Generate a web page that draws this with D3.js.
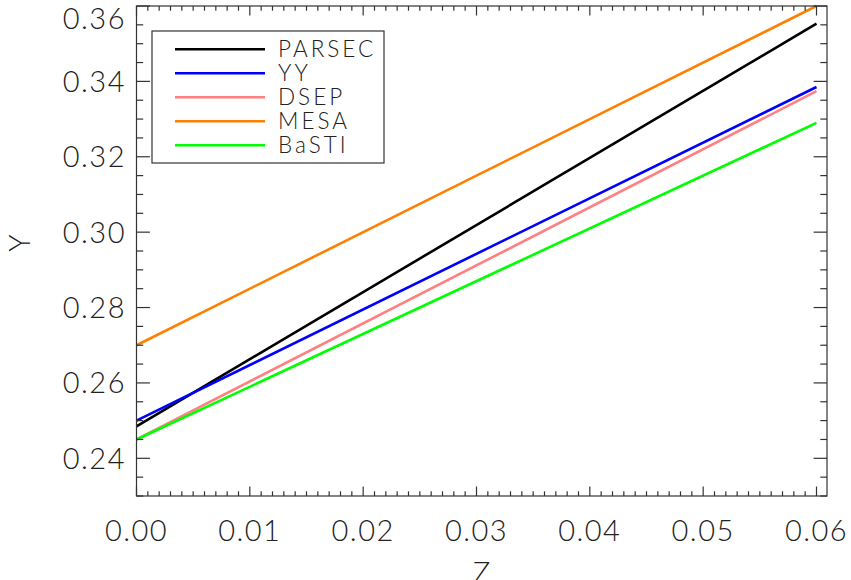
<!DOCTYPE html>
<html>
<head>
<meta charset="utf-8">
<script src="https://cdn.jsdelivr.net/npm/d3@7"></script>
<style>
html, body { margin: 0; padding: 0; background: #fff; }
svg text { font-family: "Lato", "DejaVu Sans", sans-serif; font-weight: 300; fill: #222; }
</style>
</head>
<body>
<svg id="chart" width="851" height="580"></svg>
<script>
// ---- data ----
const zValues = [0.0, 0.06];
const seriesNames = ["PARSEC", "YY", "DSEP", "MESA", "BaSTI"];
const seriesColors = ["#000000", "#0000ff", "#ff8080", "#ff8000", "#00ff00"];
const parsecY = [0.2485, 0.3553];
const yyY = [0.2500, 0.3385];
const dsepY = [0.2450, 0.3374];
const mesaY = [0.2700, 0.3600];
const bastiY = [0.2450, 0.3290];
const xTickValues = [0.00, 0.01, 0.02, 0.03, 0.04, 0.05, 0.06];
const yTickValues = [0.24, 0.26, 0.28, 0.30, 0.32, 0.34, 0.36];
const xLabel = "Z";
const yLabel = "Y";

const seriesY = [parsecY, yyY, dsepY, mesaY, bastiY];

// ---- layout ----
const svg = d3.select("#chart");
const L = 136.5, R = 827, T = 6, B = 496;
const x = d3.scaleLinear().domain([0, 0.06]).range([L, 816.5]);
const y = d3.scaleLinear().domain([0.23, 0.36]).range([B, T]);

const axisColor = "#333";
const xMinor = d3.range(0, 61).map(i => i * 0.001).filter(v => x(v) <= R);
const yMinor = d3.range(0, 27).map(i => 0.23 + i * 0.005);

const g = svg.append("g");

// lines
const line = d3.line().x(d => x(d[0])).y(d => y(d[1]));
seriesY.forEach((ys, i) => {
  g.append("path")
    .datum(zValues.map((z, j) => [z, ys[j]]))
    .attr("d", line)
    .attr("fill", "none")
    .attr("stroke", seriesColors[i])
    .attr("stroke-width", 2.6);
});

// frame
g.append("rect").attr("x", L).attr("y", T).attr("width", R - L).attr("height", B - T)
  .attr("fill", "none").attr("stroke", axisColor).attr("stroke-width", 1.2);

// ticks on all four sides
const xMajLen = 9.5, xMinLen = 4.7, yMajLen = 13.4, yMinLen = 6.7;
function isMajorX(v) { return Math.abs(v * 100 - Math.round(v * 100)) < 1e-6; }
function isMajorY(v) { return Math.abs(v * 50 - Math.round(v * 50)) < 1e-6; }
xMinor.forEach(v => {
  const len = isMajorX(v) ? xMajLen : xMinLen;
  const px = x(v);
  g.append("line").attr("x1", px).attr("x2", px).attr("y1", B).attr("y2", B - len)
    .attr("stroke", axisColor).attr("stroke-width", 1.2);
  g.append("line").attr("x1", px).attr("x2", px).attr("y1", T).attr("y2", T + len)
    .attr("stroke", axisColor).attr("stroke-width", 1.2);
});
yMinor.forEach(v => {
  const len = isMajorY(v) ? yMajLen : yMinLen;
  const py = y(v);
  g.append("line").attr("x1", L).attr("x2", L + len).attr("y1", py).attr("y2", py)
    .attr("stroke", axisColor).attr("stroke-width", 1.2);
  g.append("line").attr("x1", R).attr("x2", R - len).attr("y1", py).attr("y2", py)
    .attr("stroke", axisColor).attr("stroke-width", 1.2);
});

// tick labels
const fmt = d3.format(".2f");
xTickValues.forEach(v => {
  g.append("text").attr("x", x(v)).attr("y", 541)
    .attr("text-anchor", "middle").attr("font-size", 29)
    .attr("letter-spacing", 1.5).text(fmt(v));
});
yTickValues.forEach(v => {
  g.append("text").attr("x", 126).attr("y", Math.max(y(v), 19)).attr("dy", "0.36em")
    .attr("text-anchor", "end").attr("font-size", 29)
    .attr("letter-spacing", 1.5).text(fmt(v));
});

// axis titles
g.append("text").attr("x", (L + R) / 2).attr("y", 583)
  .attr("text-anchor", "middle").attr("font-size", 29).text(xLabel);
g.append("text").attr("transform", `translate(30,243) rotate(-90)`)
  .attr("text-anchor", "middle").attr("font-size", 29).text(yLabel);

// legend
const lg = g.append("g");
lg.append("rect").attr("x", 152).attr("y", 31).attr("width", 232).attr("height", 132)
  .attr("fill", "#fff").attr("stroke", axisColor).attr("stroke-width", 1.2);
seriesNames.forEach((name, i) => {
  const ly = 49.3 + i * 24;
  lg.append("line").attr("x1", 175).attr("x2", 265).attr("y1", ly).attr("y2", ly)
    .attr("stroke", seriesColors[i]).attr("stroke-width", 2.6);
  lg.append("text").attr("x", 278).attr("y", ly).attr("dy", "0.36em")
    .attr("font-size", 22.5).attr("letter-spacing", 3).text(name);
});
</script>
</body>
</html>
